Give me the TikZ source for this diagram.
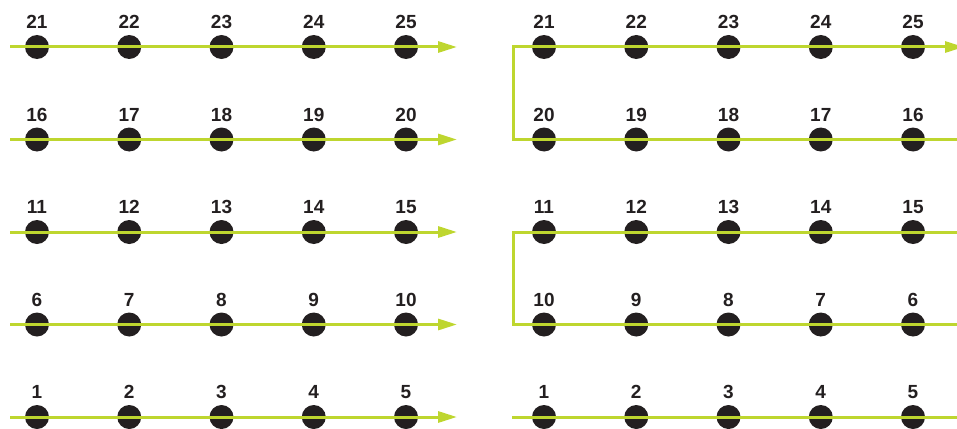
\documentclass[tikz,border=0pt]{standalone}
\usepackage{fontspec}
\setmainfont{Liberation Sans}
\usepackage{xcolor}
\usepackage{tikz}
\usetikzlibrary{arrows.meta}

\definecolor{trackgreen}{RGB}{190,214,47}
\definecolor{dotblack}{RGB}{35,31,32}

\tikzset{
  dot/.style={circle, fill=dotblack, minimum size=24pt, inner sep=0pt},
  num/.style={font=\fontsize{19}{21}\selectfont\bfseries, text=dotblack,
    inner sep=0pt, text height=13.5pt, text depth=0pt},
  track/.style={draw=trackgreen, line width=3pt},
  trackarrow/.style={track, -{Triangle[length=19pt, width=11pt]}}
}

\begin{document}
\begin{tikzpicture}[x=1pt, y=-1pt]
\clip (0,0) rectangle (957,428);
\useasboundingbox (0,0) rectangle (957,428);

% left grid, every row runs left to right
\foreach \r in {1,...,5}
  \foreach \c in {1,...,5}{
    \pgfmathtruncatemacro{\n}{5*(\r-1)+\c}
    \node[dot, label={[num, label distance=6pt]above:\n}] (L\n) at ({37+92.25*(\c-1)}, {417-92.5*(\r-1)}) {};
  }

% right grid, rows 2 and 4 run right to left
\foreach \r in {1,...,5}
  \foreach \c in {1,...,5}{
    \pgfmathtruncatemacro{\n}{mod(\r,2)==0 ? 5*\r+1-\c : 5*(\r-1)+\c}
    \node[dot, label={[num, label distance=6pt]above:\n}] (R\n) at ({544+92.25*(\c-1)}, {417-92.5*(\r-1)}) {};
  }

% left tracks
\foreach \a/\b in {1/5, 6/10, 11/15, 16/20, 21/25}{
  \coordinate (ls\a) at ([xshift=-27pt]L\a.center);
  \coordinate (le\b) at ([xshift=51pt]L\b.center);
  \draw[trackarrow] (ls\a) -- (le\b);
}

% right tracks
\coordinate (rs1) at ([xshift=-32pt]R1.center);
\coordinate (re5) at ([xshift=45pt]R5.center);
\coordinate (rt10) at ([xshift=-31pt]R10.center);
\coordinate (rt11) at ([xshift=-31pt]R11.center);
\coordinate (re6) at ([xshift=45pt]R6.center);
\coordinate (re15) at ([xshift=45pt]R15.center);
\coordinate (rt20) at ([xshift=-31pt]R20.center);
\coordinate (rt21) at ([xshift=-31pt]R21.center);
\coordinate (re16) at ([xshift=45pt]R16.center);
\coordinate (re25) at ([xshift=51pt]R25.center);

\draw[track] (rs1) -- (re5);
\draw[track] (re6) -- (rt10) -- (rt11) -- (re15);
\draw[trackarrow] (re16) -- (rt20) -- (rt21) -- (re25);
\end{tikzpicture}
\end{document}
